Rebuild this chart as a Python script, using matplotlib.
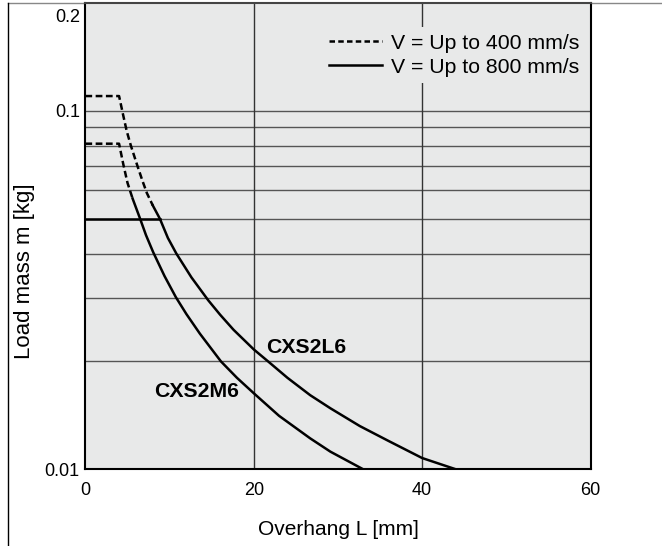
import numpy as np
import matplotlib
matplotlib.use('Agg')
import matplotlib.pyplot as plt
from matplotlib.lines import Line2D

plt.rcParams['font.family'] = ['Liberation Sans', 'DejaVu Sans']

###############################################################################
# data (overhang L [mm], load mass m [kg])

# CXS2L6, V = up to 400 mm/s (dashed)
l6_dash_L = [0, 4.0, 4.5, 4.9, 5.4, 6.2, 6.8, 7.3, 8.0]
l6_dash_m = [0.11, 0.11, 0.097, 0.088, 0.08, 0.07, 0.0636, 0.059, 0.0545]
# CXS2L6, V = up to 800 mm/s (solid)
l6_L = [8.0, 8.85, 9.8, 10.8, 12.6, 14.6, 16.0, 17.6, 20.0, 21.7, 24.0,
        26.7, 29.1, 32.6, 36.0, 40.0, 44.0]
l6_m = [0.0545, 0.05, 0.0442, 0.04, 0.0343, 0.0296, 0.027, 0.0245, 0.0216, 0.02,
        0.018, 0.0161, 0.0148, 0.0132, 0.012, 0.01075, 0.01]

# CXS2M6, V = up to 400 mm/s (dashed)
m6_dash_L = [0, 4.0, 4.5, 5.0, 5.6]
m6_dash_m = [0.081, 0.081, 0.071, 0.063, 0.057]
# CXS2M6, V = up to 800 mm/s (solid)
m6_L = [5.6, 6.5, 7.2, 8.06, 9.4, 10.75, 12.0, 13.6, 16.1, 18.0, 20.0, 23.0,
        26.7, 29.1, 33.0]
m6_m = [0.057, 0.05, 0.045, 0.0403, 0.0346, 0.0302, 0.0271, 0.0239, 0.02, 0.018,
        0.0163, 0.0141, 0.0122, 0.0112, 0.01]

# flat limit for 800 mm/s
flat_L = [0, 8.85]
flat_m = [0.05, 0.05]

labels = ['V = Up to 400 mm/s', 'V = Up to 800 mm/s']
xticks = [0, 20, 40, 60]
yticks = [0.01, 0.1]
ytick_labels = ['0.01', '0.1']
ytop = 0.2
ytop_label = '0.2'
ygrid = [0.02, 0.03, 0.04, 0.05, 0.06, 0.07, 0.08, 0.09, 0.1]
xgrid = [20, 40]

###############################################################################
bg = '#e8e9e9'
lw = 1.8

fig = plt.figure(figsize=(6.62, 5.46), dpi=100)
ax = fig.add_axes([0.129, 0.1405, 0.763, 0.854])
ax.set_facecolor(bg)
ax.set_yscale('log')
ax.set_xlim(0, 60)
ax.set_ylim(0.01, ytop)

#----- grid
for g in ygrid:
    ax.axhline(g, color='#555555', lw=1.0, zorder=1)
for g in xgrid:
    ax.axvline(g, color='#333333', lw=1.0, zorder=1)

#----- curves
dash = (0, (2.7, 1.4))
ax.plot(l6_dash_L, l6_dash_m, color='black', lw=lw, ls=dash, zorder=3)
ax.plot(m6_dash_L, m6_dash_m, color='black', lw=lw, ls=dash, zorder=3)
ax.plot(l6_L, l6_m, color='black', lw=lw, zorder=3)
ax.plot(m6_L, m6_m, color='black', lw=lw, zorder=3)
ax.plot(flat_L, flat_m, color='black', lw=lw, zorder=3)

ax.text(21.5, 0.0219, 'CXS2L6', fontsize=15.3, fontweight='bold', va='center', ha='left')
ax.text(8.2, 0.0165, 'CXS2M6', fontsize=15.3, fontweight='bold', va='center', ha='left')

#----- legend
h = [Line2D([], [], color='black', lw=lw, ls=(0, (2.2, 1.3))),
     Line2D([], [], color='black', lw=lw)]
leg = ax.legend(h, labels, loc='upper right', bbox_to_anchor=(0.99, 0.948),
                borderaxespad=0, fontsize=15.3, handlelength=2.5, handletextpad=0.4,
                labelspacing=0.25, frameon=True, facecolor=bg, edgecolor='none',
                framealpha=1, borderpad=0.3, fancybox=False)
leg.set_zorder(5)

#----- axes
ax.set_xticks(xticks)
ax.set_xticklabels([str(t) for t in xticks])
ax.yaxis.set_major_locator(matplotlib.ticker.FixedLocator(yticks))
ax.yaxis.set_minor_locator(matplotlib.ticker.NullLocator())
ax.set_yticklabels(ytick_labels)
ax.tick_params(length=0, labelsize=13, pad=4)
ax.tick_params(axis='x', pad=9)
# top label sits a little under the frame
ax.annotate(ytop_label, xy=(0, ytop), xycoords=('axes fraction', 'data'),
            xytext=(-4, -4), textcoords='offset points', ha='right', va='top',
            fontsize=13)

ax.set_xlabel('Overhang L [mm]', fontsize=15, labelpad=15)
ax.set_ylabel('Load mass m [kg]', fontsize=16)
ax.yaxis.set_label_coords(-0.1, 0.424)

for s in ['left', 'bottom', 'right']:
    ax.spines[s].set_color('black')
    ax.spines[s].set_linewidth(1.5)
ax.spines['top'].set_color('#444444')
ax.spines['top'].set_linewidth(1.5)

#----- outer frame lines
fig.add_artist(Line2D([0.0121, 0.0121], [0, 0.9945], color='black', lw=1.0))
fig.add_artist(Line2D([0.0121, 1], [0.9945, 0.9945], color='#888888', lw=1.0, zorder=0))

fig.savefig('out.png', dpi=100)
